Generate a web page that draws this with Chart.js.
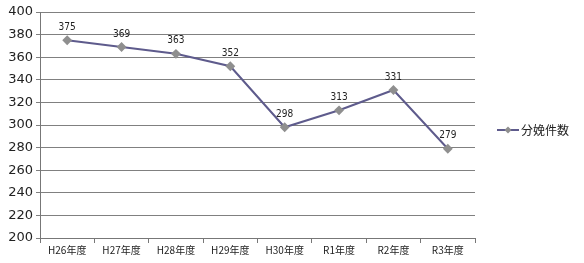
<!DOCTYPE html>
<html>
<head>
<meta charset="utf-8">
<script src="https://cdn.jsdelivr.net/npm/chart.js@4/dist/chart.umd.min.js"></script>
<style>
  html, body { margin: 0; padding: 0; background: #fff; }
  #wrap { width: 584px; height: 263px; }
</style>
</head>
<body>
<div id="wrap"><canvas id="chart" width="584" height="263"></canvas></div>
<script>
// data
const categories = ['H26年度', 'H27年度', 'H28年度', 'H29年度', 'H30年度', 'R1年度', 'R2年度', 'R3年度'];
const births = [375, 369, 363, 352, 298, 313, 331, 279];
const seriesName = '分娩件数';
const yMin = 200, yMax = 400, yStep = 20;

const lineColor = '#5e5b8c';
const markColor = '#8f8f8f';

// labels above every point
const valueLabels = {
  id: 'valueLabels',
  afterDatasetsDraw(chart) {
    const ctx = chart.ctx;
    const meta = chart.getDatasetMeta(0);
    ctx.save();
    ctx.font = '10px "DejaVu Sans Condensed", "Liberation Sans Narrow", sans-serif';
    ctx.fillStyle = '#222';
    ctx.textAlign = 'center';
    ctx.textBaseline = 'bottom';
    meta.data.forEach((pt, i) => {
      ctx.fillText(String(births[i]), pt.x, pt.y - 8);
    });
    ctx.restore();
  }
};

// legend at the right: line + marker + name
const sideLegend = {
  id: 'sideLegend',
  afterDraw(chart) {
    const ctx = chart.ctx;
    const x0 = 497, y0 = 130;
    ctx.save();
    ctx.strokeStyle = lineColor;
    ctx.lineWidth = 2;
    ctx.beginPath();
    ctx.moveTo(x0, y0);
    ctx.lineTo(x0 + 22, y0);
    ctx.stroke();
    ctx.fillStyle = markColor;
    ctx.beginPath();
    ctx.moveTo(x0 + 11, y0 - 3.5);
    ctx.lineTo(x0 + 14.5, y0);
    ctx.lineTo(x0 + 11, y0 + 3.5);
    ctx.lineTo(x0 + 7.5, y0);
    ctx.closePath();
    ctx.fill();
    ctx.fillStyle = '#222';
    ctx.font = '12px "Noto Sans CJK JP", sans-serif';
    ctx.textBaseline = 'middle';
    ctx.fillText(seriesName, x0 + 24, y0);
    ctx.restore();
  }
};

new Chart(document.getElementById('chart'), {
  type: 'line',
  data: {
    labels: categories,
    datasets: [{
      label: seriesName,
      data: births,
      borderColor: lineColor,
      borderWidth: 2,
      pointStyle: 'rectRot',
      pointRadius: 3.5,
      pointBackgroundColor: markColor,
      pointBorderColor: markColor,
      tension: 0
    }]
  },
  options: {
    responsive: false,
    animation: false,
    layout: { padding: { left: 0, right: 109, top: 12, bottom: 6 } },
    plugins: {
      legend: { display: false },
      tooltip: { enabled: false }
    },
    scales: {
      x: {
        offset: true,
        grid: {
          display: true,
          drawOnChartArea: false,
          drawTicks: true,
          tickLength: 5,
          offset: true,
          color: '#777'
        },
        border: { color: '#777' },
        ticks: {
          color: '#222',
          font: { size: 10, family: '"Noto Sans CJK JP", sans-serif' },
          maxRotation: 0,
          padding: 1
        }
      },
      y: {
        min: yMin,
        max: yMax,
        afterFit(scale) { scale.width = 40; },
        grid: { color: '#808080', drawTicks: true, tickLength: 4 },
        border: { color: '#777' },
        ticks: {
          stepSize: yStep,
          color: '#222',
          font: { size: 13, family: '"DejaVu Sans", sans-serif' },
          padding: 3
        }
      }
    }
  },
  plugins: [valueLabels, sideLegend]
});
</script>
</body>
</html>
